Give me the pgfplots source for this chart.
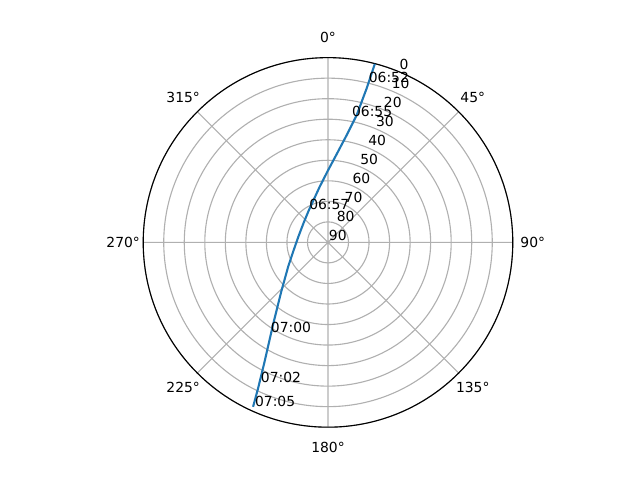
\documentclass[border=0pt]{standalone}
\usepackage{fontspec}
\setmainfont{DejaVu Sans}
\usepackage{pgfplots}
\usepackage{pgfplotstable}
\usepgfplotslibrary{polar}
\pgfplotsset{compat=1.18}
\definecolor{mplblue}{HTML}{1F77B4}
\definecolor{gridgray}{HTML}{B0B0B0}

% azimuth (deg, clockwise from north) and elevation (deg)
\pgfplotstableread{
az el
14.7 0.1
14.1 12.6
12.7 26.4
9.9 36.9
5.4 47.2
0.2 54.7
351.5 62.6
329.5 71.7
308.5 74.8
280.9 75.3
257.5 72.9
239.4 67.6
223.5 56.9
213.7 41.7
208.0 24.2
205.6 11.2
204.5 2.0
}\track

\pgfplotstableread{
az el lab
14.25 9.65 06:52
10.7 27.4 06:55
330.4 71.3 06:57
212.4 37.9 07:00
205.7 14.4 07:02
204.0 2.4 07:05
}\passtimes

\pgfplotstableread{
az el
22.5 0
22.5 10
22.5 20
22.5 30
22.5 40
22.5 50
22.5 60
22.5 70
22.5 80
22.5 90
}\rings

\pgfplotstableread{
az lab
0 0°
45 45°
90 90°
135 135°
180 180°
225 225°
270 270°
315 315°
}\compass

\begin{document}
\begin{tikzpicture}
\begin{polaraxis}[
  scale only axis,
  width=266.1pt, height=266.1pt,
  xmin=0, xmax=360, ymin=0, ymax=90,
  xtick={0,45,...,315},
  ytick={0,10,...,90},
  xticklabels={}, yticklabels={},
  major tick length=0pt,
  xmajorgrids, ymajorgrids,
  major grid style={gridgray, line width=0.8pt},
  x axis line style={black, line width=0.8pt},
  y axis line style={draw=none},
  clip=false,
  font=\fontsize{10pt}{12pt}\selectfont,
]
\coordinate (c) at (axis cs:0,0);
\addplot[mplblue, line width=1.5pt, mark=none]
  table[x expr={mod(450-\thisrow{az},360)}, y expr={90-\thisrow{el}}] {\track};
\addplot[draw=none, nodes near coords, point meta=explicit symbolic,
  every node near coord/.append style={anchor=base west, inner sep=0pt, black}]
  table[x expr={mod(450-\thisrow{az},360)}, y expr={90-\thisrow{el}}, meta=lab] {\passtimes};
\addplot[draw=none, nodes near coords, point meta=explicit symbolic,
  every node near coord/.append style={anchor=base west, inner sep=0pt, xshift=0.5pt, yshift=1.7pt, black}]
  table[x expr={mod(450-\thisrow{az},360)}, y expr={90-\thisrow{el}}, meta=el] {\rings};
\addplot[draw=none, nodes near coords, point meta=explicit symbolic,
  every node near coord/.append style={anchor=center, inner sep=0pt, black}]
  table[x expr={mod(450-\thisrow{az},360)}, y expr=99.74, meta=lab] {\compass};
\end{polaraxis}
\pgfresetboundingbox
\path ([shift={(-236.16pt,-171.07pt)}]c) rectangle ([shift={(224.64pt,174.53pt)}]c);
\end{tikzpicture}
\end{document}
